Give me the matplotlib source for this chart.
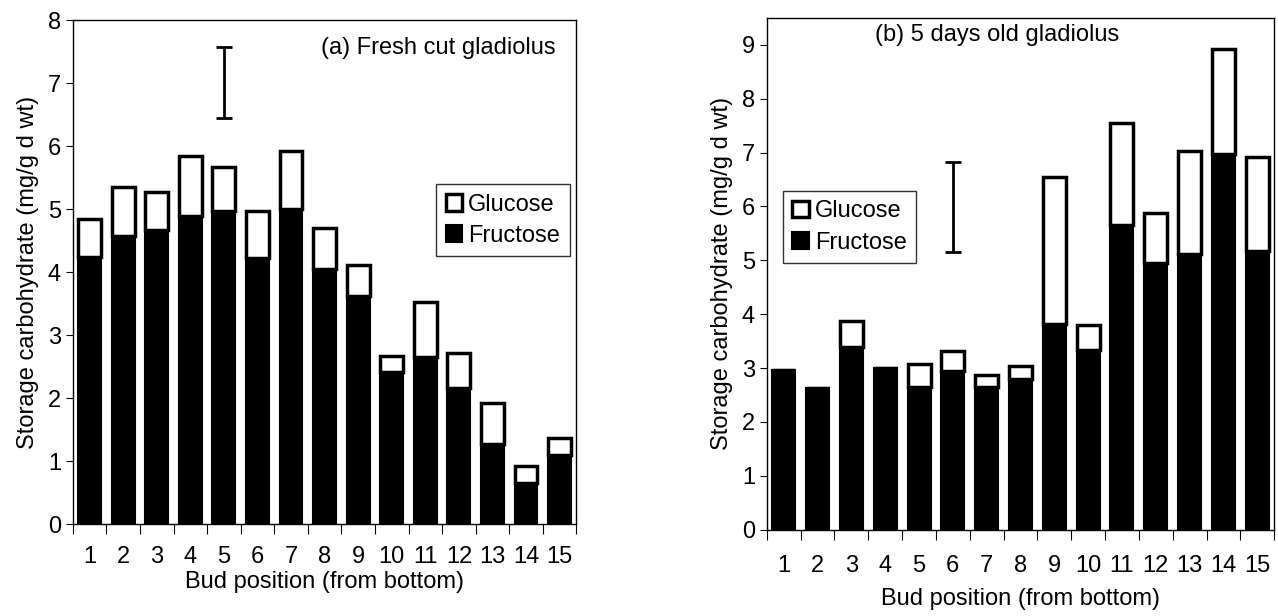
import matplotlib.pyplot as plt
import numpy as np

plt.rcParams['font.family'] = ['Liberation Sans', 'DejaVu Sans']

buds = list(range(1, 16))

# (a) fresh cut: total height and fructose part
fresh_total = [4.85, 5.35, 5.27, 5.85, 5.67, 4.97, 5.93, 4.70, 4.12, 2.67, 3.53, 2.72, 1.93, 0.93, 1.37]
fresh_fructose = [4.25, 4.57, 4.67, 4.90, 4.98, 4.22, 5.00, 4.05, 3.62, 2.42, 2.65, 2.17, 1.27, 0.65, 1.10]
fresh_err = (5, 6.45, 7.57)

# (b) 5 days old
old_total = [2.97, 2.63, 3.88, 3.00, 3.07, 3.32, 2.87, 3.03, 6.55, 3.80, 7.55, 5.88, 7.03, 8.93, 6.92]
old_fructose = [2.97, 2.63, 3.40, 3.00, 2.65, 2.95, 2.65, 2.80, 3.82, 3.33, 5.65, 4.95, 5.12, 6.98, 5.18]
old_err = (6, 5.15, 6.83)

FS = 17

fig = plt.figure(figsize=(12.78, 6.16), dpi=100)
ax1 = fig.add_axes([0.057, 0.149, 0.394, 0.818])
ax2 = fig.add_axes([0.600, 0.140, 0.397, 0.831])


def draw(ax, total, fruc, err, ylim, title, title_xy, title_ha, leg_anchor, tpad, lpad):
    total = np.array(total)
    fruc = np.array(fruc)
    gluc = total - fruc
    ax.bar(buds, fruc, width=0.68, color='black', edgecolor='black', linewidth=1.5, label='Fructose')
    ax.bar(buds, gluc, bottom=fruc, width=0.68, color='white', edgecolor='black',
           linewidth=2.5, label='Glucose')
    ax.errorbar([err[0]], [(err[1] + err[2]) / 2], yerr=[(err[2] - err[1]) / 2],
                color='black', capsize=6, capthick=2, elinewidth=2)
    ax.set_xlim(0.5, 15.5)
    ax.set_ylim(*ylim)
    ax.set_xticks(np.arange(0.5, 16, 1))
    ax.set_xticklabels([])
    ax.set_xticks(buds, minor=True)
    ax.set_xticklabels([str(b) for b in buds], minor=True, fontsize=FS)
    ax.tick_params(axis='x', which='major', length=7, direction='out')
    ax.tick_params(axis='x', which='minor', length=0, pad=tpad)
    ax.set_yticks(range(0, int(ylim[1]) + 1))
    ax.tick_params(axis='y', labelsize=FS, length=5)
    for s in ax.spines.values():
        s.set_linewidth(1)
    ax.set_xlabel('Bud position (from bottom)', fontsize=FS, labelpad=lpad)
    ax.set_ylabel('Storage carbohydrate (mg/g d wt)', fontsize=FS, labelpad=6)
    ax.text(title_xy[0], title_xy[1], title, transform=ax.transAxes, fontsize=FS,
            ha=title_ha, va='center')
    h, l = ax.get_legend_handles_labels()
    ax.legend(h[::-1], l[::-1], loc='upper left', bbox_to_anchor=leg_anchor, fontsize=FS,
              frameon=True, fancybox=False, edgecolor='black', handlelength=0.7,
              handleheight=0.7, handletextpad=0.25, borderpad=0.4, labelspacing=0.4,
              borderaxespad=0)


draw(ax1, fresh_total, fresh_fructose, fresh_err, (0, 8), '(a) Fresh cut gladiolus',
     (0.958, 0.946), 'right', (0.722, 0.675), 16, 2)
draw(ax2, old_total, old_fructose, old_err, (0, 9.5), '(b) 5 days old gladiolus',
     (0.213, 0.967), 'left', (0.032, 0.662), 18, 8)

fig.savefig('out.png', dpi=100)
